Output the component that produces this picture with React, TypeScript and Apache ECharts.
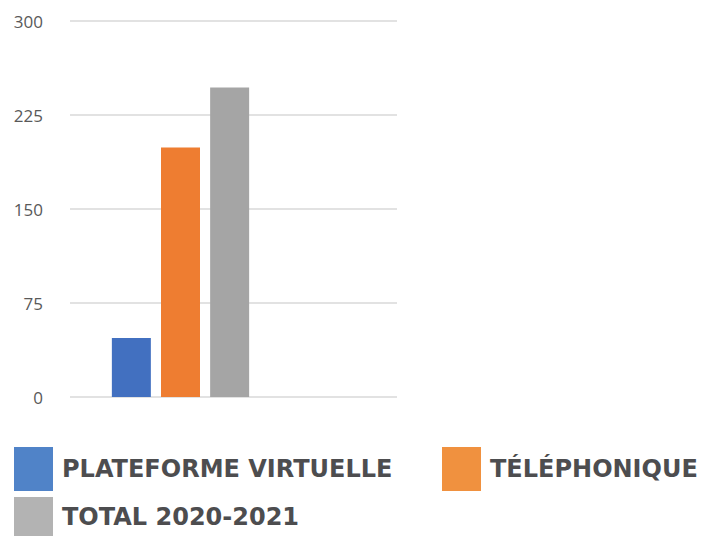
import React, { useEffect, useRef } from "react";
import * as echarts from "echarts";

const categories = ["2020-2021"];
const seriesNames = ["PLATEFORME VIRTUELLE", "TÉLÉPHONIQUE", "TOTAL 2020-2021"];
const virtuelle = [47];
const telephonique = [199];
const total = [247];
const yTicks = [0, 75, 150, 225, 300];

const barColors = ["#4270C0", "#EE7D31", "#A5A5A5"];
const legendColors = ["#5083C8", "#F0913F", "#B3B3B3"];

export default function App() {
  const ref = useRef<HTMLDivElement>(null);
  useEffect(() => {
    if (!ref.current) return;
    const chart = echarts.init(ref.current, null, { renderer: "svg" });
    const legendText = {
      fontFamily: "DejaVu Sans",
      fontWeight: "bold",
      fontSize: 24,
      color: "#4D4D4F",
    };
    const mkLegend = (i: number, left: number, top: number, h: number) => ({
      left,
      top,
      padding: 0,
      orient: "horizontal",
      selectedMode: false,
      itemWidth: 39,
      itemHeight: h,
      itemGap: 0,
      icon: "rect",
      textStyle: { ...legendText, padding: [0, 0, 0, 4] },
      data: [{ name: seriesNames[i], itemStyle: { color: legendColors[i] } }],
    });
    chart.setOption({
      animation: false,
      grid: [
        { left: 70, right: 305, top: 21, bottom: 139 },
        { left: 70, width: 221, top: 21, bottom: 139 },
      ],
      xAxis: [
        {
          type: "category",
          gridIndex: 0,
          data: categories,
          axisLine: { show: false },
          axisTick: { show: false },
          axisLabel: { show: false },
        },
        {
          type: "category",
          gridIndex: 1,
          data: categories,
          axisLine: { show: false },
          axisTick: { show: false },
          axisLabel: { show: false },
        },
      ],
      yAxis: [
        {
          type: "value",
          gridIndex: 0,
          min: yTicks[0],
          max: yTicks[yTicks.length - 1],
          interval: 75,
          axisLine: { show: false },
          axisTick: { show: false },
          axisLabel: {
            margin: 27,
            fontFamily: "Open Sans",
            fontSize: 17,
            color: "#595959",
          },
          splitLine: { lineStyle: { color: "#D9D9D9", width: 1.5 } },
        },
        {
          type: "value",
          gridIndex: 1,
          min: yTicks[0],
          max: yTicks[yTicks.length - 1],
          interval: 75,
          show: false,
          splitLine: { show: false },
        },
      ],
      legend: [mkLegend(0, 14, 447, 44), mkLegend(1, 442, 447, 44), mkLegend(2, 14, 497, 39)],
      series: [
        { name: seriesNames[0], type: "bar", xAxisIndex: 1, yAxisIndex: 1, data: virtuelle, barWidth: 39, barGap: "26%", itemStyle: { color: barColors[0] } },
        { name: seriesNames[1], type: "bar", xAxisIndex: 1, yAxisIndex: 1, data: telephonique, barWidth: 39, barGap: "26%", itemStyle: { color: barColors[1] } },
        { name: seriesNames[2], type: "bar", xAxisIndex: 1, yAxisIndex: 1, data: total, barWidth: 39, barGap: "26%", itemStyle: { color: barColors[2] } },
      ],
    });
    return () => chart.dispose();
  }, []);
  return (
    <div
      ref={ref}
      style={{ position: "absolute", left: 0, top: 0, width: 702, height: 536, background: "#fff" }}
    />
  );
}
